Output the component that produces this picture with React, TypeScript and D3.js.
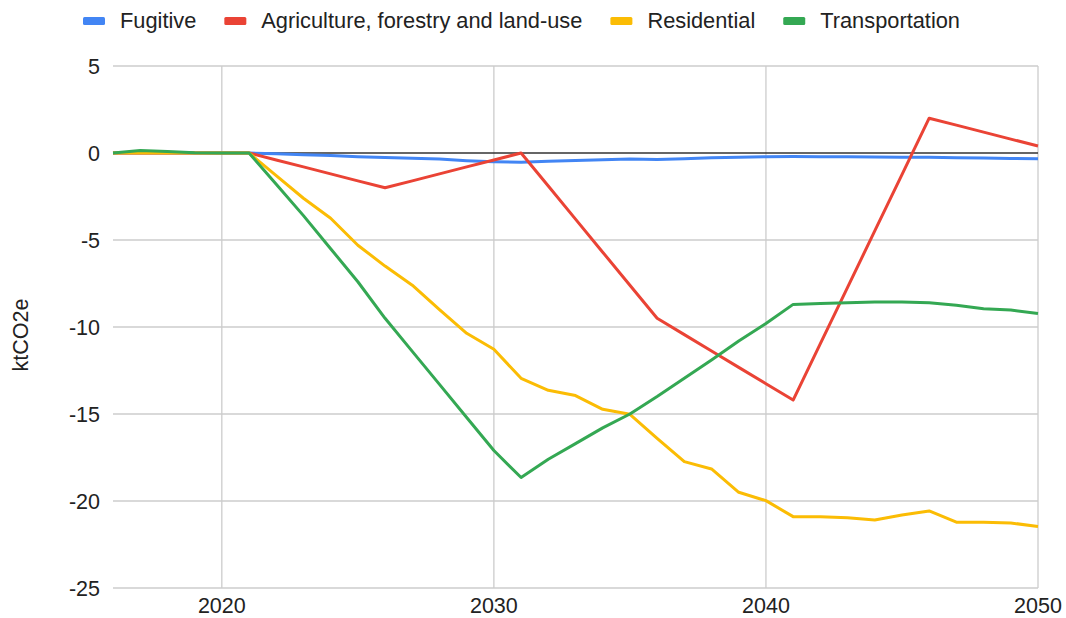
import React, { useEffect, useRef } from "react";
import * as d3 from "d3";

const years: number[] = d3.range(2016, 2051);

const fugitive: number[] = [
  0, 0, 0, 0, 0, 0, -0.05, -0.1, -0.15, -0.22, -0.26, -0.3, -0.35, -0.44, -0.5,
  -0.53, -0.48, -0.43, -0.39, -0.35, -0.38, -0.33, -0.28, -0.24, -0.21,
  -0.2, -0.21, -0.22, -0.23, -0.24, -0.25, -0.27, -0.29, -0.31, -0.33,
];

const agriculture: number[] = [
  0, 0, 0, 0, 0, 0, -0.4, -0.8, -1.2, -1.6, -2.0, -1.6, -1.2, -0.8, -0.4,
  0, -1.9, -3.8, -5.7, -7.6, -9.5, -10.44, -11.38, -12.32, -13.26,
  -14.2, -10.96, -7.72, -4.48, -1.24, 2.0, 1.6, 1.2, 0.8, 0.4,
];

const residential: number[] = [
  0, 0, 0, 0, 0, 0, -1.3, -2.6, -3.75, -5.3, -6.5, -7.6, -9.0, -10.36, -11.28,
  -12.95, -13.64, -13.94, -14.73, -15.02, -16.4, -17.74, -18.16, -19.5, -19.98,
  -20.9, -20.9, -20.96, -21.09, -20.8, -20.57, -21.22, -21.22, -21.26, -21.47,
];

const transportation: number[] = [
  0, 0.14, 0.08, 0.02, 0, 0, -1.8, -3.6, -5.5, -7.4, -9.5, -11.4, -13.3, -15.2, -17.1,
  -18.65, -17.6, -16.7, -15.8, -15.0, -14.0, -12.95, -11.9, -10.8, -9.8,
  -8.7, -8.65, -8.6, -8.56, -8.56, -8.6, -8.75, -8.95, -9.02, -9.23,
];

const seriesNames: string[] = [
  "Fugitive",
  "Agriculture, forestry and land-use",
  "Residential",
  "Transportation",
];
const seriesValues: number[][] = [fugitive, agriculture, residential, transportation];
const seriesColors: string[] = ["#4285F4", "#EA4335", "#FBBC04", "#34A853"];

const yTicks: number[] = [5, 0, -5, -10, -15, -20, -25];
const xTicks: number[] = [2020, 2030, 2040, 2050];
const yLabel = "ktCO2e";

const W = 1066;
const H = 618;
const FONT = "'Liberation Sans', Arial, Helvetica, sans-serif";

export default function App() {
  const ref = useRef<SVGSVGElement | null>(null);

  useEffect(() => {
    const svg = d3.select(ref.current);
    svg.selectAll("*").remove();

    const x = d3.scaleLinear().domain([2016, 2050]).range([113, 1038]);
    const y = d3.scaleLinear().domain([-25, 5]).range([588, 66]);

    // horizontal gridlines
    const grid = svg.append("g");
    grid
      .selectAll("line.h")
      .data(yTicks.filter((t) => t !== 0))
      .join("line")
      .attr("x1", x(2016))
      .attr("x2", x(2050))
      .attr("y1", (d) => y(d))
      .attr("y2", (d) => y(d))
      .attr("stroke", "#cccccc")
      .attr("stroke-width", 1.3);
    grid
      .selectAll("line.v")
      .data(xTicks)
      .join("line")
      .attr("x1", (d) => x(d))
      .attr("x2", (d) => x(d))
      .attr("y1", y(5))
      .attr("y2", y(-25))
      .attr("stroke", "#cccccc")
      .attr("stroke-width", 1.3);

    // zero baseline
    svg
      .append("line")
      .attr("x1", x(2016))
      .attr("x2", x(2050))
      .attr("y1", y(0))
      .attr("y2", y(0))
      .attr("stroke", "#333333")
      .attr("stroke-width", 1.5);

    // y tick labels
    svg
      .append("g")
      .selectAll("text")
      .data(yTicks)
      .join("text")
      .attr("x", 100)
      .attr("y", (d) => y(d))
      .attr("dy", "0.36em")
      .attr("text-anchor", "end")
      .attr("font-family", FONT)
      .attr("font-size", 21.5)
      .attr("fill", "#222")
      .text((d) => String(d));

    // x tick labels
    svg
      .append("g")
      .selectAll("text")
      .data(xTicks)
      .join("text")
      .attr("x", (d) => x(d))
      .attr("y", 613)
      .attr("text-anchor", "middle")
      .attr("font-family", FONT)
      .attr("font-size", 21.5)
      .attr("fill", "#222")
      .text((d) => String(d));

    // y axis title
    svg
      .append("text")
      .attr("transform", `translate(28, ${(y(5) + y(-25)) / 2 + 8}) rotate(-90)`)
      .attr("text-anchor", "middle")
      .attr("font-family", FONT)
      .attr("font-size", 21.5)
      .attr("fill", "#222")
      .text(yLabel);

    // lines
    const line = d3
      .line<number>()
      .x((_, i) => x(years[i]))
      .y((d) => y(d));
    svg
      .append("g")
      .selectAll("path")
      .data(seriesValues)
      .join("path")
      .attr("d", (d) => line(d) || "")
      .attr("fill", "none")
      .attr("stroke", (_, i) => seriesColors[i])
      .attr("stroke-width", 3)
      .attr("stroke-linejoin", "round");

    // legend
    const legend = svg.append("g");
    let cx = 83;
    seriesNames.forEach((name, i) => {
      legend
        .append("rect")
        .attr("x", cx)
        .attr("y", 17)
        .attr("width", 22)
        .attr("height", 8)
        .attr("rx", 1.5)
        .attr("fill", seriesColors[i]);
      const t = legend
        .append("text")
        .attr("x", cx + 37)
        .attr("y", 28)
        .attr("font-family", FONT)
        .attr("font-size", 21.8)
        .attr("fill", "#222")
        .text(name);
      const w = (t.node() as SVGTextElement).getComputedTextLength();
      cx = cx + 37 + w + 28;
    });
  }, []);

  return (
    <svg
      ref={ref}
      width={W}
      height={H}
      style={{ position: "absolute", left: 0, top: 0, background: "#fff" }}
    />
  );
}
